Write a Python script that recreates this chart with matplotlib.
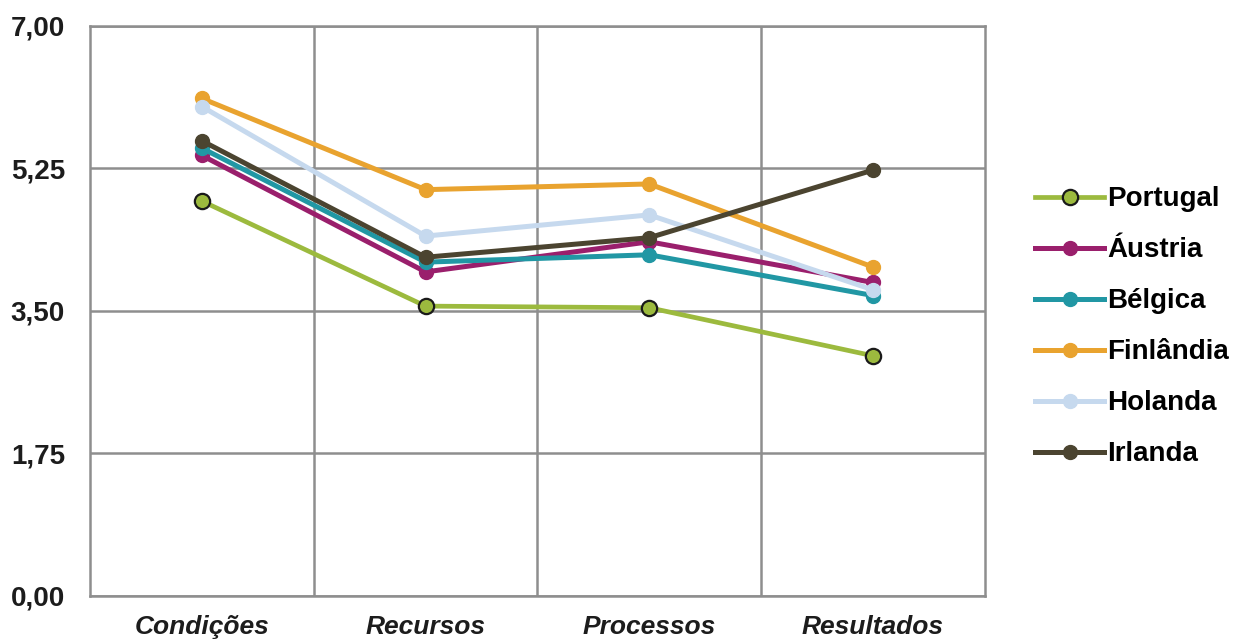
import matplotlib
matplotlib.use('Agg')
import matplotlib.pyplot as plt

# indicator groups on the x axis
categories = ['Condições', 'Recursos', 'Processos', 'Resultados']

# average scores per country
portugal = [4.85, 3.56, 3.54, 2.95]
austria = [5.41, 3.98, 4.35, 3.85]
belgica = [5.50, 4.10, 4.19, 3.69]
finlandia = [6.11, 4.99, 5.06, 4.04]
holanda = [6.01, 4.42, 4.68, 3.76]
irlanda = [5.59, 4.16, 4.40, 5.23]

y_ticks = [0.0, 1.75, 3.5, 5.25, 7.0]
y_labels = ['0,00', '1,75', '3,50', '5,25', '7,00']

plt.rcParams['font.family'] = ['Liberation Sans', 'DejaVu Sans']

fig = plt.figure(figsize=(12.45, 6.43), dpi=100)
ax = fig.add_axes([0.0723, 0.0731, 0.7187, 0.8865])

x = list(range(len(categories)))
series = [
    ('Portugal', portugal, '#9cba3e'),
    ('Áustria', austria, '#9a1f6c'),
    ('Bélgica', belgica, '#2197a4'),
    ('Finlândia', finlandia, '#e9a32f'),
    ('Holanda', holanda, '#c6d9ee'),
    ('Irlanda', irlanda, '#4b4430'),
]
for name, vals, col in series:
    if name == 'Portugal':
        ax.plot(x, vals, color=col, lw=3.4, marker='o', ms=11,
                mfc=col, mec='#1a1a1a', mew=1.6, label=name, zorder=3)
    else:
        ax.plot(x, vals, color=col, lw=3.6, marker='o', ms=10,
                mfc=col, mec=col, label=name, zorder=3)

ax.set_xlim(-0.5, 3.5)
ax.set_ylim(0, 7)
ax.set_yticks(y_ticks)
ax.set_yticklabels(y_labels, fontsize=20, fontweight='bold', color='#1c1c1c')
ax.set_xticks(x)
ax.set_xticklabels(categories, fontsize=19, fontweight='bold', style='italic', color='#1c1c1c')
ax.set_xticks([0.5, 1.5, 2.5], minor=True)
ax.tick_params(axis='y', length=0, pad=18)
ax.tick_params(axis='x', which='both', length=0, pad=14)

ax.grid(axis='y', color='#8e8e8e', lw=1.8)
ax.grid(axis='x', which='minor', color='#8e8e8e', lw=1.8)
for s in ax.spines.values():
    s.set_color('#8e8e8e')
    s.set_linewidth(1.8)

leg = ax.legend(loc='center left', bbox_to_anchor=(1.056, 0.472), frameon=False,
                handlelength=2.5, handletextpad=0.1, labelspacing=0.9,
                borderpad=0, borderaxespad=0,
                prop={'weight': 'bold', 'size': 20})

fig.savefig('out.png', dpi=100)
